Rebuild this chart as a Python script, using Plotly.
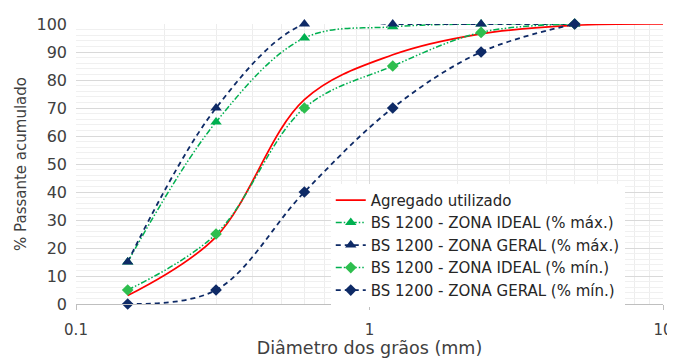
import plotly.graph_objects as go

# --- data ---
sieves = [0.15, 0.3, 0.6, 1.2, 2.4, 5.0]
agregado_x = [0.15, 0.3, 0.6, 1.2, 2.4, 5.0, 10.0]
agregado_y = [3, 24, 73, 89, 96.5, 99.5, 100]
ideal_max = [15, 65, 95, 99, 100, 100]
geral_max = [15, 70, 100, 100, 100, 100]
ideal_min = [5, 25, 70, 85, 97, 100]
geral_min = [0, 5, 40, 70, 90, 100]

names = [
    "Agregado utilizado",
    "BS 1200 - ZONA IDEAL (% máx.)",
    "BS 1200 - ZONA GERAL (% máx.)",
    "BS 1200 - ZONA IDEAL (% mín.)",
    "BS 1200 - ZONA GERAL (% mín.)",
]
x_ticks = [0.1, 1, 10]
x_tick_text = ["0.1", "1", "10"]
x_minor = [0.2, 0.3, 0.4, 0.5, 0.6, 0.7, 0.8, 0.9, 2, 3, 4, 5, 6, 7, 8, 9]
y_ticks = [0, 10, 20, 30, 40, 50, 60, 70, 80, 90, 100]

RED = "#FF0000"
GREEN = "#00B050"
GREEN2 = "#2EBE4E"
NAVY = "#0E2A66"
FONT = "DejaVu Sans"
TXT = "#404040"

fig = go.Figure()
fig.add_trace(go.Scatter(
    x=agregado_x, y=agregado_y, name=names[0], mode="lines", cliponaxis=False,
    line=dict(color=RED, width=1.7, shape="spline", smoothing=1.0)))
fig.add_trace(go.Scatter(
    x=sieves, y=ideal_max, name=names[1], mode="lines+markers", cliponaxis=False,
    line=dict(color=GREEN, width=1.5, dash="6px,2px,1.5px,2px,1.5px,2px", shape="spline", smoothing=1.0),
    marker=dict(symbol="triangle-up", size=10, color=GREEN)))
fig.add_trace(go.Scatter(
    x=sieves, y=geral_max, name=names[2], mode="lines+markers", cliponaxis=False,
    line=dict(color=NAVY, width=1.8, dash="5px,4px", shape="spline", smoothing=1.0),
    marker=dict(symbol="triangle-up", size=10, color=NAVY)))
fig.add_trace(go.Scatter(
    x=sieves, y=ideal_min, name=names[3], mode="lines+markers", cliponaxis=False,
    line=dict(color=GREEN, width=1.5, dash="6px,2px,1.5px,2px,1.5px,2px", shape="spline", smoothing=1.0),
    marker=dict(symbol="diamond", size=9, color=GREEN2)))
fig.add_trace(go.Scatter(
    x=sieves, y=geral_min, name=names[4], mode="lines+markers", cliponaxis=False,
    line=dict(color=NAVY, width=1.8, dash="5px,4px", shape="spline", smoothing=1.0),
    marker=dict(symbol="diamond", size=9, color=NAVY)))

# page body has an 8px margin: figure is sized/offset to compensate
fig.update_layout(
    width=667, height=350,
    margin=dict(l=68, r=12, t=16, b=54, autoexpand=False),
    paper_bgcolor="white", plot_bgcolor="white",
    font=dict(family=FONT, size=14, color=TXT),
    showlegend=True,
    legend=dict(
        x=0.434, y=-0.01, xanchor="left", yanchor="bottom",
        bgcolor="white", borderwidth=0,
        font=dict(family=FONT, size=15, color="#262626"),
        tracegroupgap=0, itemwidth=30,
    ),
)
fig.update_xaxes(
    type="log", range=[-1, 1],
    tickvals=x_ticks, ticktext=x_tick_text,
    showgrid=True, gridcolor="#D9D9D9", gridwidth=1,
    showline=True, linecolor="#BFBFBF", linewidth=1,
    ticks="outside", ticklen=5, tickcolor="#BFBFBF",
    tickfont=dict(size=15, color=TXT),
    ticklabelstandoff=7,
    minor=dict(tickvals=x_minor, showgrid=True, gridcolor="#EDEDED", gridwidth=1),
    title=dict(text="Diâmetro dos grãos (mm)", font=dict(size=17.5, color=TXT), standoff=3),
    zeroline=False, automargin=False,
)
fig.update_yaxes(
    range=[0, 100], tickvals=y_ticks,
    showgrid=True, gridcolor="#D9D9D9", gridwidth=1,
    showline=False, zeroline=False,
    tickfont=dict(size=16, color=TXT),
    ticklabelstandoff=8,
    minor=dict(dtick=2, showgrid=True, gridcolor="#F0F0F0", gridwidth=1),
    title=dict(text="% Passante acumulado", font=dict(size=15, color=TXT), standoff=6),
    automargin=False,
)

fig.write_html("out.html")
